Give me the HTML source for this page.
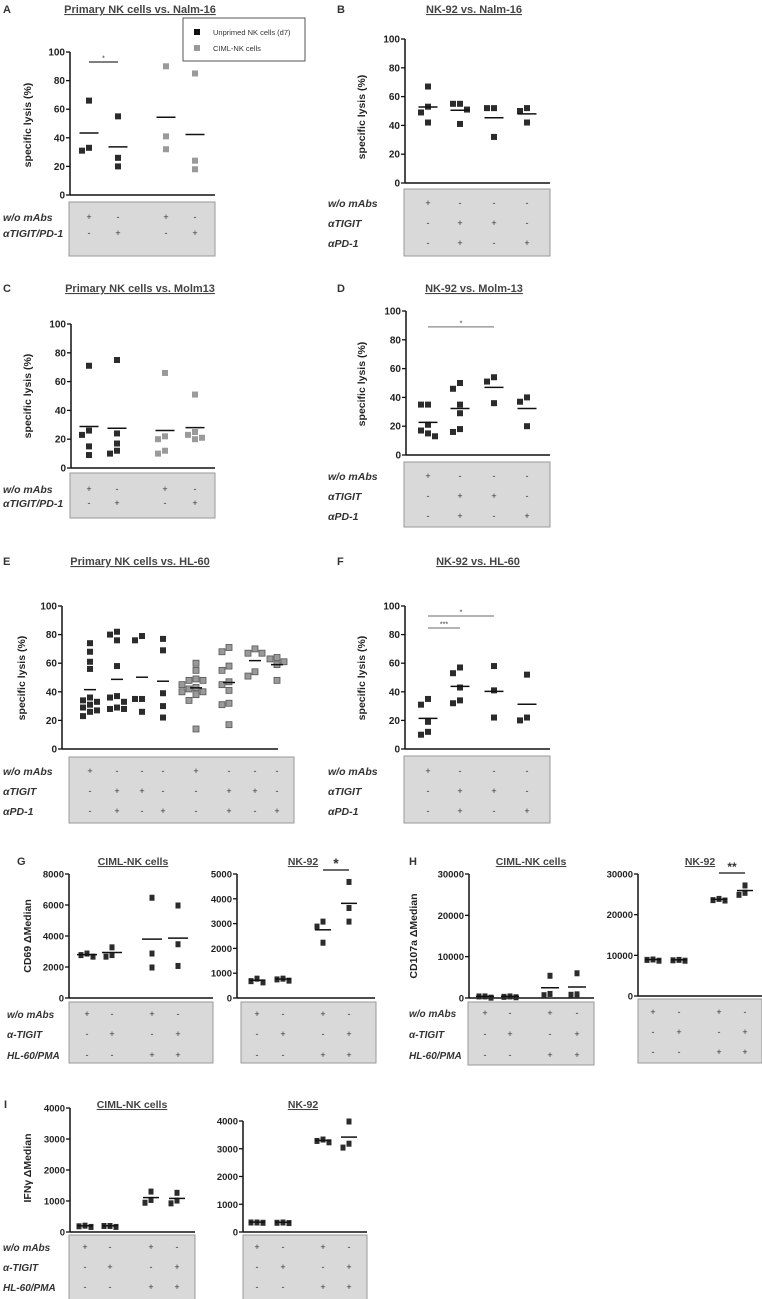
<!DOCTYPE html>
<html><head><meta charset="utf-8"><style>
html,body{margin:0;padding:0;background:#fff;}
svg{display:block;font-family:"Liberation Sans",sans-serif;}
</style></head><body>
<svg id="fig" width="762" height="1299" viewBox="0 0 762 1299" xmlns="http://www.w3.org/2000/svg">
<g>
<rect x="183" y="18" width="122" height="43" fill="#fff" stroke="#555" stroke-width="1"/>
<rect x="194" y="29" width="6" height="6" fill="#111"/>
<text x="213" y="35" font-size="7.5" fill="#333">Unprimed NK cells (d7)</text>
<rect x="194" y="45" width="6" height="6" fill="#999"/>
<text x="213" y="51" font-size="7.5" fill="#333">CIML-NK cells</text>
</g>
</svg>
<script>
// ---- data ----
const tickLysis = [0,20,40,60,80,100];
const tickG1 = [0,2000,4000,6000,8000];
const tickG2 = [0,1000,2000,3000,4000,5000];
const tickH = [0,10000,20000,30000];
const tickI = [0,1000,2000,3000,4000];
const aVals = [[31,66,33],[55,26,20],[90,41,32],[85,24,18]];
const bVals = [[67,53,49,42],[55,55,51,41],[52,52,32],[52,50,42]];
const cVals = [[71,26,23,15,9],[75,24,17,12,10],[66,22,20,12,10],[51,25,23,21,20]];
const dVals = [[35,35,21,17,15,13],[50,46,35,29,18,16],[54,51,36],[40,37,20]];
const eVals = [[74,68,61,56,36,34,33,31,29,27,26,23],[82,80,76,58,37,36,33,29,28,28],[79,76,35,35,26],[77,69,39,30,22],
  [60,55,49,48,48,45,43,42,40,40,38,34,14],[71,68,58,55,47,45,41,32,31,17],[70,67,67,54,51],[64,63,61,59,48]];
const fVals = [[35,31,19,12,10],[57,53,43,34,32],[58,41,22],[52,22,20]];
const gCimlVals = [[2700,2900,2800],[2700,3300,2800],[6500,2900,2000],[6000,3500,2100]];
const gNkVals = [[650,800,700],[720,800,770],[3100,2900,2250],[4700,3650,3100]];
const hCimlVals = [[200,500,500],[300,500,400],[800,5500,1100],[900,6100,1000]];
const hNkVals = [[8800,9100,9000],[8800,9000,8900],[23700,24000,23600],[25000,27300,25500]];
const iCimlVals = [[180,220,200],[180,210,210],[960,1320,1050],[940,1280,1030]];
const iNkVals = [[350,360,360],[340,360,350],[3250,3350,3300],[4000,3060,3200]];
const tblAC = [['+','-','+','-'],['-','+','-','+']];
const tblBDF = [['+','-','-','-'],['-','+','+','-'],['-','+','-','+']];
const tblE = [['+','-','-','-','+','-','-','-'],['-','+','+','-','-','+','+','-'],['-','+','-','+','-','+','-','+']];
const tblGHI = [['+','-','+','-'],['-','+','-','+'],['-','-','+','+']];
const rowsAC = ['w/o mAbs','\u03B1TIGIT/PD-1'];
const rowsBDF = ['w/o mAbs','\u03B1TIGIT','\u03B1PD-1'];
const rowsGHI = ['w/o mAbs','\u03B1-TIGIT','HL-60/PMA'];
const sigD = [[0,2,89,'*']];
const sigF = [[0,1,84.6,'***'],[0,2,93,'*']];
const sigA = [[0,1,93,'*']];
const sigGNk = [[2,3,5160,'*']];
const sigHNk = [[2,3,30250,'**']];

const NS='http://www.w3.org/2000/svg';
const svg=document.getElementById('fig');
function el(tag,attrs,parent){const e=document.createElementNS(NS,tag);for(const k in attrs)e.setAttribute(k,attrs[k]);(parent||svg).appendChild(e);return e;}
function txt(s,attrs,parent){const t=el('text',attrs,parent);t.textContent=s;return t;}

const K='#2b2b2b', GR='#9a9a9a';
const panels=[
 {id:'a',letter:'A',lx:3,ly:9,title:'Primary NK cells vs. Nalm-16',tcx:140,ty:9,ax:70,xe:215,yt:52,yb:195,ymax:100,ticks:tickLysis,groups:[89,118,166,195],vals:aVals,colors:[K,K,GR,GR],ytitle:'specific lysis (%)',ytx:31,ytc:125,tbl:[69,215,202,256],rowY:[217,233],rows:rowsAC,rowX:3,syms:tblAC,sig:sigA,sigColor:'#333',mw:19,ms:6,fs:10},
 {id:'b',letter:'B',lx:337,ly:9,title:'NK-92 vs. Nalm-16',tcx:474,ty:9,ax:405,xe:550,yt:39,yb:183,ymax:100,ticks:tickLysis,groups:[428,460,494,527],vals:bVals,colors:[K,K,K,K],ytitle:'specific lysis (%)',ytx:365,ytc:117,tbl:[404,550,189,256],rowY:[203,223,243],rows:rowsBDF,rowX:328,syms:tblBDF,sig:[],mw:19,ms:6,fs:10},
 {id:'c',letter:'C',lx:3,ly:288,title:'Primary NK cells vs. Molm13',tcx:140,ty:288,ax:71,xe:215,yt:324,yb:468,ymax:100,ticks:tickLysis,groups:[89,117,165,195],vals:cVals,colors:[K,K,GR,GR],ytitle:'specific lysis (%)',ytx:31,ytc:396,tbl:[70,215,473,518],rowY:[489,503],rows:rowsAC,rowX:3,syms:tblAC,sig:[],mw:19,ms:6,fs:10},
 {id:'d',letter:'D',lx:337,ly:288,title:'NK-92 vs. Molm-13',tcx:474,ty:288,ax:406,xe:550,yt:311,yb:455,ymax:100,ticks:tickLysis,groups:[428,460,494,527],vals:dVals,colors:[K,K,K,K],ytitle:'specific lysis (%)',ytx:365,ytc:384,tbl:[404,550,462,527],rowY:[476,496,516],rows:rowsBDF,rowX:328,syms:tblBDF,sig:sigD,sigColor:'#888',mw:19,ms:6,fs:10},
 {id:'e',letter:'E',lx:3,ly:561,title:'Primary NK cells vs. HL-60',tcx:140,ty:561,ax:62,xe:278,yt:606,yb:749,ymax:100,ticks:tickLysis,groups:[90,117,142,163,196,229,255,277],vals:eVals,colors:[K,K,K,K,'#9a9a9a','#9a9a9a','#9a9a9a','#9a9a9a'],stroke:['none','none','none','none','#555','#555','#555','#555'],ytitle:'specific lysis (%)',ytx:25,ytc:678,tbl:[69,294,757,823],rowY:[771,791,811],rows:rowsBDF,rowX:3,syms:tblE,sig:[],mw:12,ms:6,fs:10},
 {id:'f',letter:'F',lx:337,ly:561,title:'NK-92 vs. HL-60',tcx:478,ty:561,ax:405,xe:550,yt:606,yb:749,ymax:100,ticks:tickLysis,groups:[428,460,494,527],vals:fVals,colors:[K,K,K,K],ytitle:'specific lysis (%)',ytx:365,ytc:678,tbl:[404,550,756,823],rowY:[771,791,811],rows:rowsBDF,rowX:328,syms:tblBDF,sig:sigF,sigColor:'#888',mw:19,ms:6,fs:10},
 {id:'g1',letter:'G',lx:17,ly:861,title:'CIML-NK cells',tcx:133,ty:861,ax:69,xe:213,yt:874,yb:998,ymax:8000,ticks:tickG1,groups:[87,112,152,178],vals:gCimlVals,colors:[K,K,K,K],ytitle:'CD69 \u0394Median',ytx:31,ytc:936,tbl:[69,213,1002,1063],rowY:[1014,1034,1055],rows:rowsGHI,rowX:7,syms:tblGHI,sig:[],mw:20,ms:5,fs:9.5},
 {id:'g2',title:'NK-92',tcx:303,ty:861,ax:237,xe:375,yt:874,yb:998,ymax:5000,ticks:tickG2,groups:[257,283,323,349],vals:gNkVals,colors:[K,K,K,K],tbl:[241,376,1002,1063],rowY:[1014,1034,1055],syms:tblGHI,sig:sigGNk,sigColor:'#111',mw:16,ms:5,fs:9.5,sigFs:14},
 {id:'h1',letter:'H',lx:409,ly:861,title:'CIML-NK cells',tcx:531,ty:861,ax:469,xe:594,yt:874,yb:998,ymax:30000,ticks:tickH,groups:[485,510,550,577],vals:hCimlVals,colors:[K,K,K,K],ytitle:'CD107a \u0394Median',ytx:417,ytc:936,tbl:[468,594,1002,1065],rowY:[1013,1034,1055],rows:rowsGHI,rowX:409,syms:tblGHI,sig:[],mw:18,ms:5,fs:9.5},
 {id:'h2',title:'NK-92',tcx:700,ty:861,ax:638,xe:762,yt:874,yb:996,ymax:30000,ticks:tickH,groups:[653,679,719,745],vals:hNkVals,colors:[K,K,K,K],tbl:[638,762,999,1063],rowY:[1012,1032,1052],syms:tblGHI,sig:sigHNk,sigColor:'#111',mw:16,ms:5,fs:9.5,sigFs:12},
 {id:'i1',letter:'I',lx:4,ly:1104,title:'CIML-NK cells',tcx:132,ty:1104,ax:70,xe:195,yt:1108,yb:1232,ymax:4000,ticks:tickI,groups:[85,110,151,177],vals:iCimlVals,colors:[K,K,K,K],ytitle:'IFN\u03B3 \u0394Median',ytx:31,ytc:1168,tbl:[69,195,1235,1300],rowY:[1247,1267,1287],rows:rowsGHI,rowX:3,syms:tblGHI,sig:[],mw:16,ms:5,fs:9.5},
 {id:'i2',title:'NK-92',tcx:303,ty:1104,ax:243,xe:367,yt:1121,yb:1232,ymax:4000,ticks:tickI,groups:[257,283,323,349],vals:iNkVals,colors:[K,K,K,K],tbl:[243,367,1235,1300],rowY:[1247,1267,1287],syms:tblGHI,sig:[],mw:16,ms:5,fs:9.5}
];

panels.forEach(p=>{
 const g=el('g',{});
 
 
 const y=v=>p.yb-(v/p.ymax)*(p.yb-p.yt);
 if(p.letter){const t=txt(p.letter,{x:p.lx,y:p.ly+4,'font-size':11,'font-weight':'bold',fill:'#333'},g);
  }
 const tt=txt(p.title,{x:p.tcx,y:p.ty+4,'font-size':p.fs>=10?11:10.5,'font-weight':'bold',fill:'#444','text-anchor':'middle','text-decoration':'underline'},g);
 
 // table
 const [tx1,tx2,ty1,ty2]=p.tbl;
 const tb=el('rect',{x:tx1,y:ty1,width:tx2-tx1,height:ty2-ty1,fill:'#d9d9d9',stroke:'#999','stroke-width':1},g);
 
 p.syms.forEach((row,ri)=>{
  row.forEach((s,ci)=>{const t=txt(s,{x:p.groups[ci],y:p.rowY[ri]+3,'font-size':9,fill:'#333','text-anchor':'middle'},g);
   });
  if(p.rows){const t=txt(p.rows[ri],{x:p.rowX,y:p.rowY[ri]+4,'font-size':p.fs+0.5,'font-weight':'bold','font-style':'italic',fill:'#333'},g);
   }
 });
 // axes
 const ya=el('line',{x1:p.ax,y1:p.yt,x2:p.ax,y2:p.yb,stroke:'#111','stroke-width':1.5},g);
 
 const xa=el('line',{x1:p.ax,y1:p.yb,x2:p.xe,y2:p.yb,stroke:'#111','stroke-width':1.5},g);
 
 p.ticks.forEach(v=>{
  el('line',{x1:p.ax-4,y1:y(v),x2:p.ax,y2:y(v),stroke:'#111','stroke-width':1.3},g);
  const t=txt(String(v),{x:p.ax-5,y:y(v)+3.5,'font-size':p.fs,'font-weight':'bold',fill:'#222','text-anchor':'end'},g);
  
 });
 if(p.ytitle){const t=txt(p.ytitle,{x:p.ytx,y:p.ytc,'font-size':10.5,'font-weight':'bold',fill:'#222','text-anchor':'middle',transform:`rotate(-90 ${p.ytx} ${p.ytc})`},g);
  }
 // points
 const ms=p.ms, dx=ms+1;
 p.vals.forEach((vals,gi)=>{
  const cx=p.groups[gi];
  const placed=[];
  const order=vals.map((v,i)=>i).sort((a,b)=>vals[b]-vals[a]);
  const offs=[0,-dx,dx,-2*dx,2*dx,-3*dx,3*dx];
  order.forEach(i=>{
   const py=y(vals[i]);
   let off=0;
   for(const o of offs){if(!placed.some(q=>q.o===o&&Math.abs(q.y-py)<ms)){off=o;break;}}
   placed.push({o:off,y:py});
   const r=el('rect',{x:cx+off-ms/2,y:py-ms/2,width:ms,height:ms+(ms<6?1:0),fill:p.colors[gi],stroke:p.stroke?p.stroke[gi]:'none','stroke-width':0.8},g);
   
   
  });
  const m=vals.reduce((a,b)=>a+b,0)/vals.length;
  const ml=el('line',{x1:cx-p.mw/2,y1:y(m),x2:cx+p.mw/2,y2:y(m),stroke:'#111','stroke-width':1.5},g);
  
  
 });
 // significance
 p.sig.forEach(s=>{
  const sy=y(s[2]);
  const l=el('line',{x1:p.groups[s[0]],y1:sy,x2:p.groups[s[1]],y2:sy,stroke:p.sigColor,'stroke-width':1.2},g);
  
  const fsz=p.sigFs||7;
  const t=txt(s[3],{x:(p.groups[s[0]]+p.groups[s[1]])/2,y:sy-(p.sigFs?2:1.5),'font-size':fsz,'font-weight':p.sigFs?'bold':'normal',fill:'#333','text-anchor':'middle'},g);
  
 });
});
</script>
</body></html>
